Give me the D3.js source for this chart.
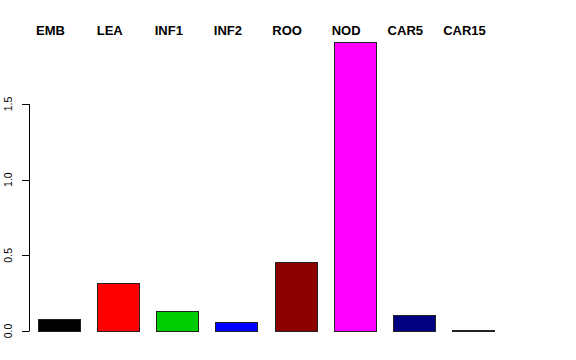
<!DOCTYPE html>
<html>
<head>
<meta charset="utf-8">
<script src="https://cdn.jsdelivr.net/npm/d3@7"></script>
<style>
  body { margin: 0; background: #fff; }
  text { font-family: "Liberation Sans", Arial, sans-serif; }
</style>
</head>
<body>
<div class="chart"></div>
<script>
var svgWidth = 576;
var svgHeight = 360;

// data
var categories = ["EMB", "LEA", "INF1", "INF2", "ROO", "NOD", "CAR5", "CAR15"];
var values = [0.08, 0.317, 0.13, 0.062, 0.456, 1.912, 0.108, 0.003];
var colors = ["#000000", "#ff0000", "#00cd00", "#0000ff", "#8b0000", "#ff00ff", "#000080", "#bebebe"];
var yTicks = [0, 0.5, 1.0, 1.5];

var svg = d3.select(".chart")
  .append("svg")
  .attr("width", svgWidth)
  .attr("height", svgHeight);

// band scale: bars start at 38, step ~59
var x = d3.scaleBand()
  .domain(categories)
  .range([29.5, 502.5])
  .paddingInner(0.29)
  .paddingOuter(0.145);

// 0 at y=331, 1.5 at y=104
var y = d3.scaleLinear()
  .domain([0, 1.5])
  .range([331, 104]);

// bars (at least 1px tall so the flat one still shows its border)
svg.selectAll("rect.bar")
  .data(categories)
  .enter()
  .append("rect")
  .attr("class", "bar")
  .attr("x", d => Math.round(x(d)) + 0.5)
  .attr("y", (d, i) => Math.min(Math.round(y(values[i])), Math.round(y(0)) - 1) + 0.5)
  .attr("width", Math.round(x.bandwidth()))
  .attr("height", (d, i) => Math.max(1, Math.round(y(0)) - Math.round(y(values[i]))))
  .attr("fill", (d, i) => colors[i])
  .attr("stroke", "#222")
  .attr("stroke-width", 1);

// labels over the bars
svg.selectAll("text.cat")
  .data(categories)
  .enter()
  .append("text")
  .attr("class", "cat")
  .attr("x", d => x(d) + x.bandwidth() / 2 - 8.5)
  .attr("y", 35)
  .attr("text-anchor", "middle")
  .attr("font-size", "13px")
  .attr("font-weight", "bold")
  .text(d => d);

// y axis, R style
var yAxis = svg.append("g");
yAxis.append("line")
  .attr("x1", 29.5).attr("x2", 29.5)
  .attr("y1", y(0)).attr("y2", y(1.5))
  .attr("stroke", "#000");

yAxis.selectAll("line.tick")
  .data(yTicks)
  .enter()
  .append("line")
  .attr("class", "tick")
  .attr("x1", 22).attr("x2", 29.5)
  .attr("y1", d => Math.round(y(d)) + 0.5)
  .attr("y2", d => Math.round(y(d)) + 0.5)
  .attr("stroke", "#000");

yAxis.selectAll("text.tlab")
  .data(yTicks)
  .enter()
  .append("text")
  .attr("class", "tlab")
  .attr("transform", d => `translate(11.5, ${y(d)}) rotate(-90)`)
  .attr("text-anchor", "middle")
  .attr("font-size", "10.5px")
  .text(d3.format(".1f"));
</script>
</body>
</html>
